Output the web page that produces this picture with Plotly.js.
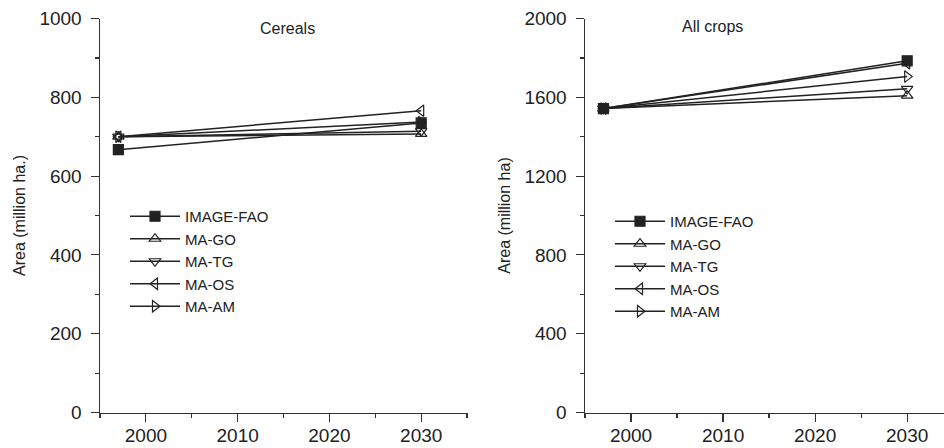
<!DOCTYPE html>
<html>
<head>
<meta charset="utf-8">
<script src="https://cdn.plot.ly/plotly-3.0.1.min.js"></script>
<style>html,body{margin:0;padding:0;background:#fff;}#chart{width:944px;height:448px;}</style>
</head>
<body>
<div id="chart"></div>
<script>
const years = [1997, 2030];
const seriesNames = ['IMAGE-FAO', 'MA-GO', 'MA-TG', 'MA-OS', 'MA-AM'];
const cereals = {
  'IMAGE-FAO': [667, 735],
  'MA-GO': [700, 707],
  'MA-TG': [700, 714],
  'MA-OS': [700, 766],
  'MA-AM': [700, 737]
};
const allCrops = {
  'IMAGE-FAO': [1543, 1785],
  'MA-GO': [1543, 1608],
  'MA-TG': [1543, 1643],
  'MA-OS': [1543, 1773],
  'MA-AM': [1543, 1705]
};
const symbols = ['square', 'triangle-up-open', 'triangle-down-open', 'triangle-left-open', 'triangle-right-open'];
const leftYTicks = [0, 200, 400, 600, 800, 1000];
const rightYTicks = [0, 400, 800, 1200, 1600, 2000];
const xTicks = [2000, 2010, 2020, 2030];

const FONT = 'Liberation Sans, Arial, sans-serif';
const INK = '#222';
const traces = [];
seriesNames.forEach((name, i) => {
  const mk = {symbol: symbols[i], size: 10, color: INK, line: {color: INK, width: 1.2}};
  traces.push({x: years, y: cereals[name], name: name, type: 'scatter', mode: 'lines+markers',
    line: {color: INK, width: 1.5}, marker: mk, xaxis: 'x', yaxis: 'y', legend: 'legend'});
  traces.push({x: years, y: allCrops[name], name: name, type: 'scatter', mode: 'lines+markers',
    line: {color: INK, width: 1.5}, marker: mk, xaxis: 'x2', yaxis: 'y2', legend: 'legend2'});
});

const axisCommon = {
  showline: true, linecolor: '#333', linewidth: 1.5, showgrid: false, zeroline: false,
  ticks: 'outside', ticklen: 8, tickwidth: 1.2, tickcolor: '#333',
  tickfont: {family: FONT, size: 19, color: INK}
};
const yb = (448 - 412.5) / 448, yt = (448 - 18.5) / 448;
const legFont = {family: FONT, size: 15, color: INK};
const layout = {
  width: 944, height: 448,
  margin: {l: 0, r: 0, t: 0, b: 0},
  paper_bgcolor: '#fff', plot_bgcolor: '#fff',
  font: {family: FONT, color: INK},
  showlegend: true,
  xaxis: Object.assign({}, axisCommon, {domain: [100/944, 468/944], range: [1995, 2035.1],
    tickvals: xTicks, ticklabelstandoff: -3,
    minor: {dtick: 5, tick0: 1995, ticklen: 4, ticks: 'outside', tickcolor: '#333'}, anchor: 'y'}),
  yaxis: Object.assign({}, axisCommon, {domain: [yb, yt], range: [0, 1000], tickvals: leftYTicks,
    ticklabelstandoff: 5,
    minor: {dtick: 100, tick0: 0, ticklen: 4, ticks: 'outside', tickcolor: '#333'}, anchor: 'x',
    title: {text: 'Area (million ha.)', font: {family: FONT, size: 16, color: INK}, standoff: 10}}),
  xaxis2: Object.assign({}, axisCommon, {domain: [585/944, 1], range: [1995, 2034],
    tickvals: xTicks, ticklabelstandoff: -3,
    minor: {dtick: 5, tick0: 1995, ticklen: 4, ticks: 'outside', tickcolor: '#333'}, anchor: 'y2'}),
  yaxis2: Object.assign({}, axisCommon, {domain: [yb, yt], range: [0, 2000], tickvals: rightYTicks,
    ticklabelstandoff: 5,
    minor: {dtick: 200, tick0: 0, ticklen: 4, ticks: 'outside', tickcolor: '#333'}, anchor: 'x2',
    title: {text: 'Area (million ha)', font: {family: FONT, size: 16, color: INK}, standoff: 10}}),
  legend: {x: 125/944, y: (448 - 200)/448, xanchor: 'left', yanchor: 'top', bgcolor: 'rgba(0,0,0,0)',
    font: legFont, itemwidth: 50, tracegroupgap: 0},
  legend2: {x: 610/944, y: (448 - 205)/448, xanchor: 'left', yanchor: 'top', bgcolor: 'rgba(0,0,0,0)',
    font: legFont, itemwidth: 50, tracegroupgap: 0},
  annotations: [
    {text: 'Cereals', xref: 'paper', yref: 'paper', x: 258/944, y: (448-28)/448, showarrow: false,
      yanchor: 'middle', font: {family: FONT, size: 16, color: INK}},
    {text: 'All crops', xref: 'paper', yref: 'paper', x: 745/944, y: (448-26)/448, showarrow: false,
      yanchor: 'middle', font: {family: FONT, size: 16, color: INK}}
  ]
};
Plotly.newPlot('chart', traces, layout, {displayModeBar: false, staticPlot: true});
</script>
</body>
</html>
